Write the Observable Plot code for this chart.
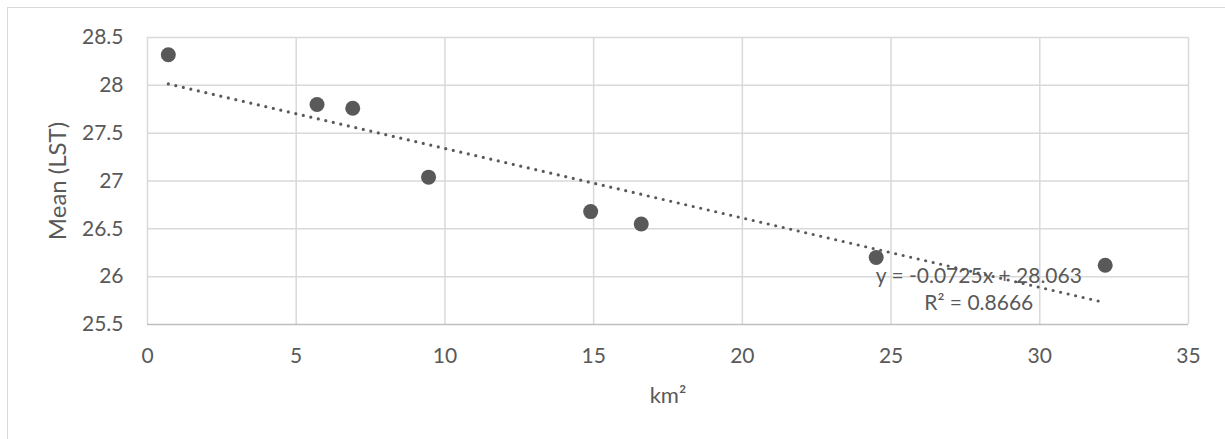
<!DOCTYPE html>
<html>
<head>
<meta charset="utf-8">
<script src="https://cdn.jsdelivr.net/npm/d3@7"></script>
<script src="https://cdn.jsdelivr.net/npm/@observablehq/plot@0.6"></script>
<style>
  html, body { margin: 0; padding: 0; background: #fff; overflow: hidden; }
  #wrap { position: relative; width: 1225px; height: 439px; }
  #border { position: absolute; left: 7px; top: 7px; width: 1300px; height: 600px; border: 1px solid #d9d9d9; box-sizing: border-box; }
  #chart { position: absolute; left: 0; top: 0; }
</style>
</head>
<body>
<div id="wrap">
  <div id="border"></div>
  <div id="chart"></div>
</div>
<script>
// Data
const areaKm2 = [0.7, 5.7, 6.9, 9.45, 14.9, 16.6, 24.5, 32.2];
const meanLST = [28.32, 27.8, 27.76, 27.04, 26.68, 26.55, 26.2, 26.12];
const xTicks = [0, 5, 10, 15, 20, 25, 30, 35];
const yTicks = [25.5, 26, 26.5, 27, 27.5, 28, 28.5];
const equationLines = ["y = -0.0725x + 28.063", "R² = 0.8666"];
const equationPos = [{x: 27.95, y: 26.0}, {x: 27.95, y: 25.72}];
const xTitle = "km²";
const yTitle = "Mean (LST)";

const points = areaKm2.map((x, i) => ({x, y: meanLST[i]}));
const eqData = equationLines.map((t, i) => ({t, ...equationPos[i]}));

const ink = "#595959";
const grid = "#d9d9d9";
const font = "Lato, 'Open Sans', sans-serif";

const chart = Plot.plot({
  width: 1225,
  height: 439,
  marginLeft: 147,
  marginRight: 37,
  marginTop: 37,
  marginBottom: 115,
  style: {background: "transparent", fontFamily: font, fontSize: "21px", color: ink},
  x: {domain: [0, 35], ticks: xTicks, tickFormat: d => String(d), label: null},
  y: {domain: [25.5, 28.5], ticks: yTicks, tickFormat: d => String(d), label: null},
  marks: [
    Plot.gridX(xTicks, {stroke: grid, strokeOpacity: 1, strokeWidth: 1.5}),
    Plot.gridY(yTicks.slice(1), {stroke: grid, strokeOpacity: 1, strokeWidth: 1.5}),
    Plot.ruleY([25.5], {stroke: "#bfbfbf", strokeWidth: 1.5}),
    Plot.axisX({ticks: xTicks, tickSize: 0, tickPadding: 24, fontSize: 21, fill: ink, tickFormat: d => String(d), label: null}),
    Plot.axisY({ticks: yTicks, tickSize: 0, tickPadding: 24, fontSize: 21, fill: ink, tickFormat: d => String(d), label: null}),
    Plot.linearRegressionY(points, {x: "x", y: "y", ci: 0, stroke: ink, strokeWidth: 3.2, strokeDasharray: "0,7.7", strokeLinecap: "round"}),
    Plot.dot(points, {x: "x", y: "y", r: 7.5, fill: ink, stroke: "none"}),
    Plot.text(eqData, {x: "x", y: "y", text: "t", fontSize: 21, fill: ink, textAnchor: "middle"}),
    Plot.text([yTitle], {frameAnchor: "left", textAnchor: "middle", lineAnchor: "middle", rotate: -90, dx: -89, fontSize: 24, fill: ink}),
    Plot.text([xTitle], {frameAnchor: "bottom", textAnchor: "middle", lineAnchor: "middle", dy: 71, fontSize: 22, fill: ink})
  ]
});
document.getElementById("chart").appendChild(chart);
</script>
</body>
</html>
